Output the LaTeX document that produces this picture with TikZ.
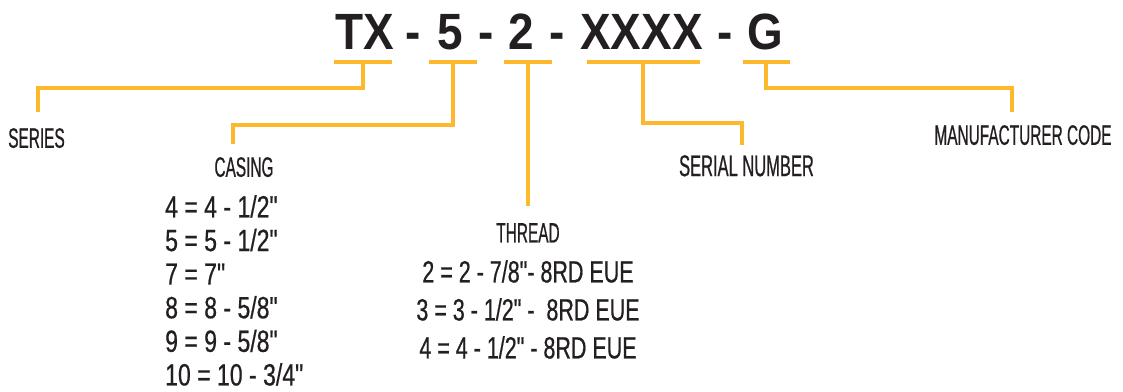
\documentclass[tikz,border=0pt]{standalone}
\usepackage{fontspec}
\newfontfamily\titlefont[FakeStretch=0.9]{Liberation Sans}
\newfontfamily\lblfont[FakeStretch=0.55,FakeBold=0.6]{Liberation Sans}
\newfontfamily\lijstfont[FakeStretch=0.7,FakeBold=0.6]{Liberation Sans}
\newfontfamily\casingfont[FakeStretch=0.75,FakeBold=0.6]{Liberation Sans}
\definecolor{geel}{HTML}{FDB92B}
\definecolor{inkt}{HTML}{231F20}
\tikzset{
  part/.style={font=\titlefont\bfseries\fontsize{51}{51}\selectfont, text=inkt, inner sep=0pt, anchor=base},
  lbl/.style={font=\lblfont\fontsize{28}{30}\selectfont, text=inkt, inner sep=0pt, anchor=north},
  lijst/.style={font=\lijstfont\fontsize{30.7}{33.6}\selectfont, text=inkt, inner sep=0pt},
  bar/.style={geel, line width=3.6pt},
}

\begin{document}
\begin{tikzpicture}[x=1pt,y=-1pt]
        \useasboundingbox (0,0) rectangle (1123,391);
        % code
        \node[part] (tx) at (365,49) {TX};
        \node[part] (d1) at (413,49) {-};
        \node[part] (five) at (450,49) {5};
        \node[part] (d2) at (486,49) {-};
        \node[part] (two) at (521.5,49) {2};
        \node[part] (d3) at (557.5,49) {-};
        \node[part] (xxxx) at (641.5,49) {XXXX};
        \node[part] (d4) at (725.5,49) {-};
        \node[part] (g) at (765,49) {G};
        % labels
        \node[lbl] (series) at (36.5,128) {SERIES};
        \node[lbl] (casing) at (244,157) {CASING};
        \node[lijst, anchor=north west, align=left, font=\casingfont\fontsize{30.7}{33.6}\selectfont] (casinglist) at (165,195)
            {4 = 4 - 1/2"\\5 = 5 - 1/2"\\7 = 7"\\8 = 8 - 5/8"\\9 = 9 - 5/8"\\10 = 10 - 3/4"};
        \node[lbl] (thread) at (528,223) {THREAD};
        \node[lijst, anchor=north, align=center, font=\lijstfont\fontsize{30.7}{38}\selectfont] (threadlist) at (528,260)
            {2 = 2 - 7/8"- 8RD EUE\\3 = 3 - 1/2" -\ \ 8RD EUE\\4 = 4 - 1/2" - 8RD EUE};
        \node[lbl, font=\lblfont\fontsize{30}{32}\selectfont] (serial) at (746.5,155) {SERIAL NUMBER};
        \node[lbl] (manuf) at (1023,125) {MANUFACTURER CODE};
        % balken onder de code
        \coordinate (txb) at (363,62);
        \coordinate (fiveb) at (453,62);
        \coordinate (twob) at (528,62);
        \coordinate (xxxxb) at (643.5,62);
        \coordinate (gb) at (766.5,62);
        \draw[bar] (txb) ++(-29,0) -- ++(58,0);
        \draw[bar] (fiveb) ++(-24,0) -- ++(48,0);
        \draw[bar] (twob) ++(-24,0) -- ++(48,0);
        \draw[bar] (xxxxb) ++(-56.5,0) -- ++(113,0);
        \draw[bar] (gb) ++(-23.5,0) -- ++(47,0);
        % verbindingen
        \draw[bar] (txb) -- ++(0,26) -| ([xshift=1.5pt,yshift=16pt]series.north);
        \draw[bar] (fiveb) -- ++(0,63) -| ([xshift=-11pt,yshift=13pt]casing.north);
        \draw[bar] (twob) -- ([yshift=17pt]thread.north);
        \draw[bar] ([xshift=-0.5pt]xxxxb) -- ++(0,61) -| ([xshift=-4.5pt,yshift=10pt]serial.north);
        \draw[bar] ([xshift=-0.5pt]gb) -- ++(0,26) -| ([xshift=-11pt,yshift=13pt]manuf.north);
\end{tikzpicture}
\end{document}
